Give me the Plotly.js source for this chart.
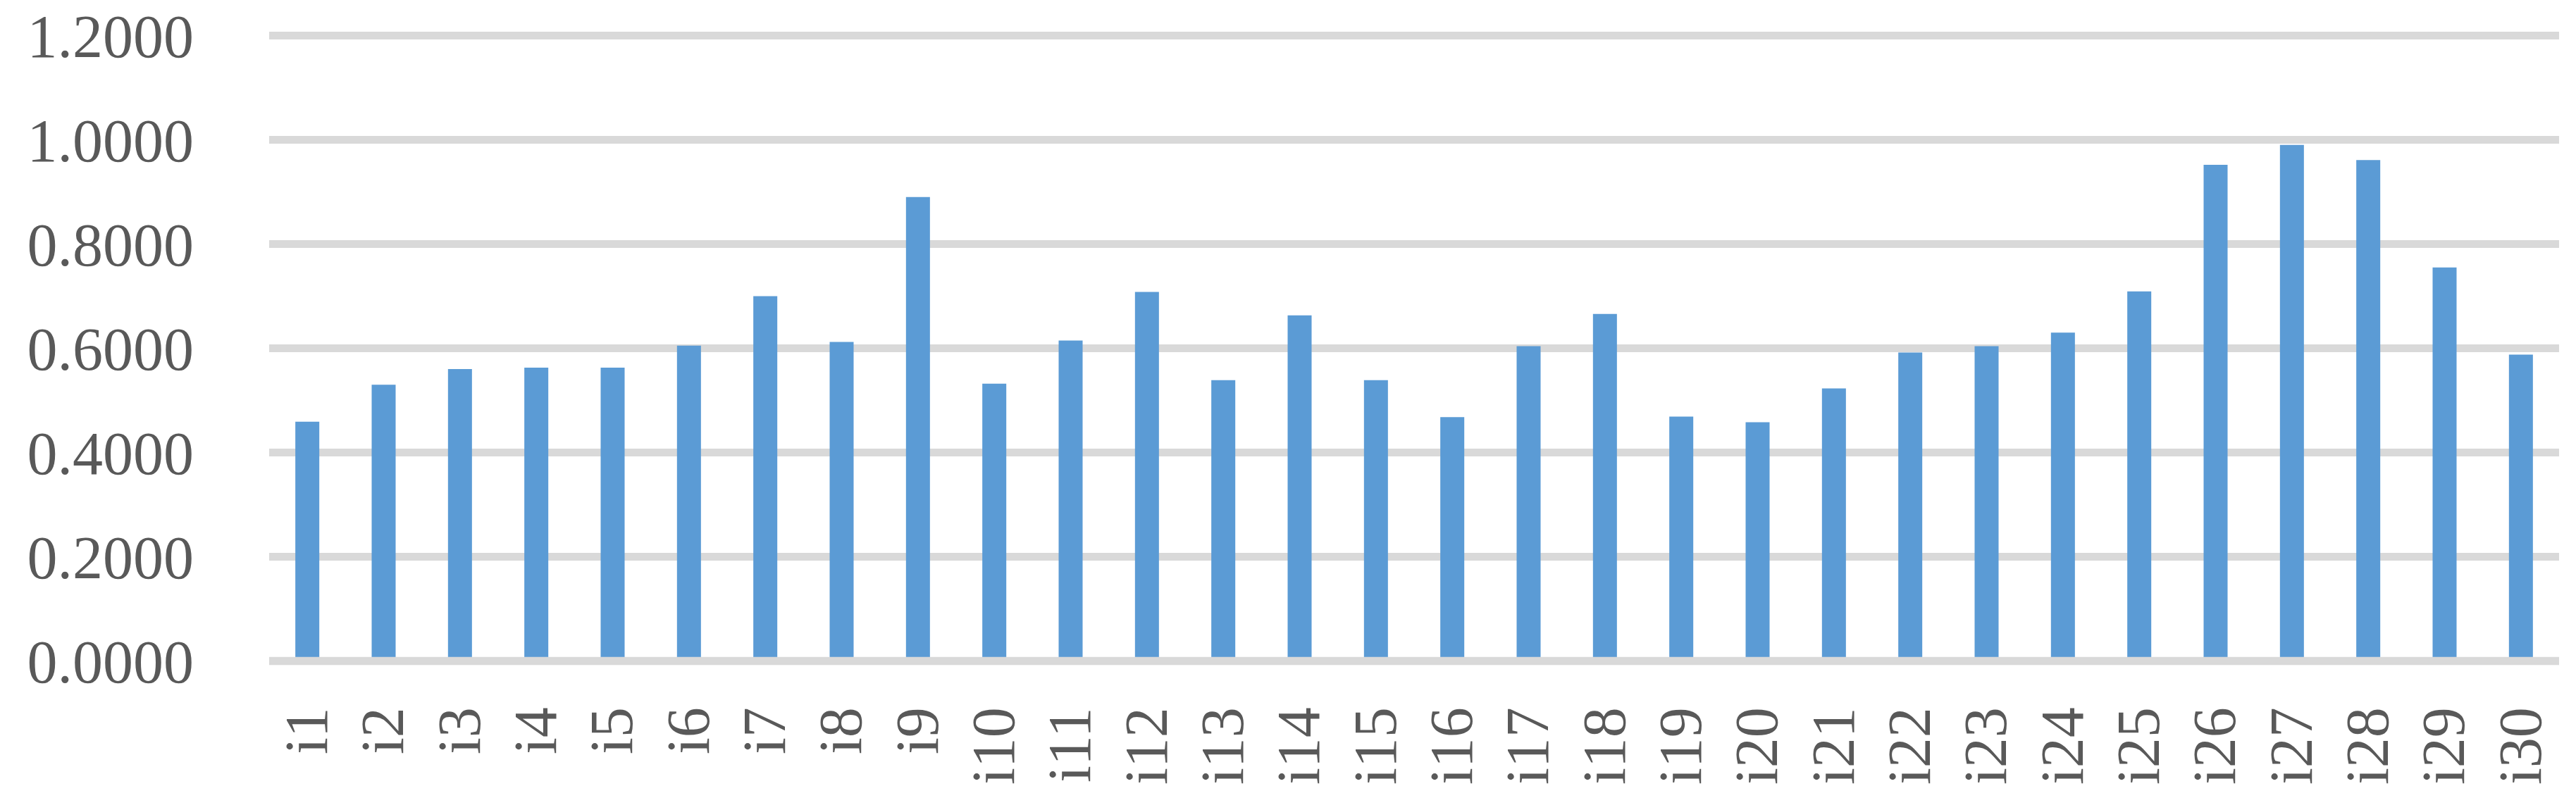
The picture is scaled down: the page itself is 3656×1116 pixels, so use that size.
<!DOCTYPE html>
<html>
<head>
<meta charset="utf-8">
<script src="https://cdn.plot.ly/plotly-3.0.1.min.js"></script>
<style>
  html, body { margin: 0; padding: 0; background: #ffffff; }
  #chart { width: 3656px; height: 1116px; }
</style>
</head>
<body>
<div id="chart"></div>
<script>
const categories = ["i1","i2","i3","i4","i5","i6","i7","i8","i9","i10",
                    "i11","i12","i13","i14","i15","i16","i17","i18","i19","i20",
                    "i21","i22","i23","i24","i25","i26","i27","i28","i29","i30"];
const values = [0.459, 0.530, 0.560, 0.563, 0.563, 0.605, 0.700, 0.612, 0.890, 0.532,
                0.615, 0.708, 0.539, 0.663, 0.539, 0.468, 0.604, 0.666, 0.469, 0.458,
                0.523, 0.592, 0.604, 0.630, 0.709, 0.952, 0.990, 0.961, 0.755, 0.588];
const yTickVals = [0, 0.2, 0.4, 0.6, 0.8, 1.0, 1.2];

const textFont = { family: "Liberation Serif, DejaVu Serif, serif", size: 86, color: "#595959" };

const trace = {
  type: "bar",
  x: categories,
  y: values,
  marker: { color: "#5b9bd5", line: { width: 0 } },
  hoverinfo: "x+y"
};

const layout = {
  width: 3656,
  height: 1116,
  paper_bgcolor: "#ffffff",
  plot_bgcolor: "#ffffff",
  margin: { l: 382, r: 24, t: 42.6, b: 170.1, pad: 0 },
  bargap: 0.686,
  showlegend: false,
  xaxis: {
    type: "category",
    tickangle: -90,
    tickfont: textFont,
    showgrid: false,
    zeroline: false,
    showline: false,
    ticks: "",
    ticklabelstandoff: 40
  },
  yaxis: {
    range: [-0.01, 1.21],
    tickvals: yTickVals,
    tickformat: ".4f",
    tickfont: textFont,
    showgrid: true,
    gridcolor: "#d9d9d9",
    gridwidth: 11.5,
    zeroline: false,
    showline: false,
    ticks: "",
    ticklabelstandoff: 106
  },
  shapes: [{
    type: "line", xref: "paper", x0: 0, x1: 1, yref: "y", y0: 0, y1: 0,
    line: { color: "#d9d9d9", width: 11.5 }, layer: "above"
  }]
};

Plotly.newPlot("chart", [trace], layout, { staticPlot: true, displayModeBar: false });
</script>
</body>
</html>
